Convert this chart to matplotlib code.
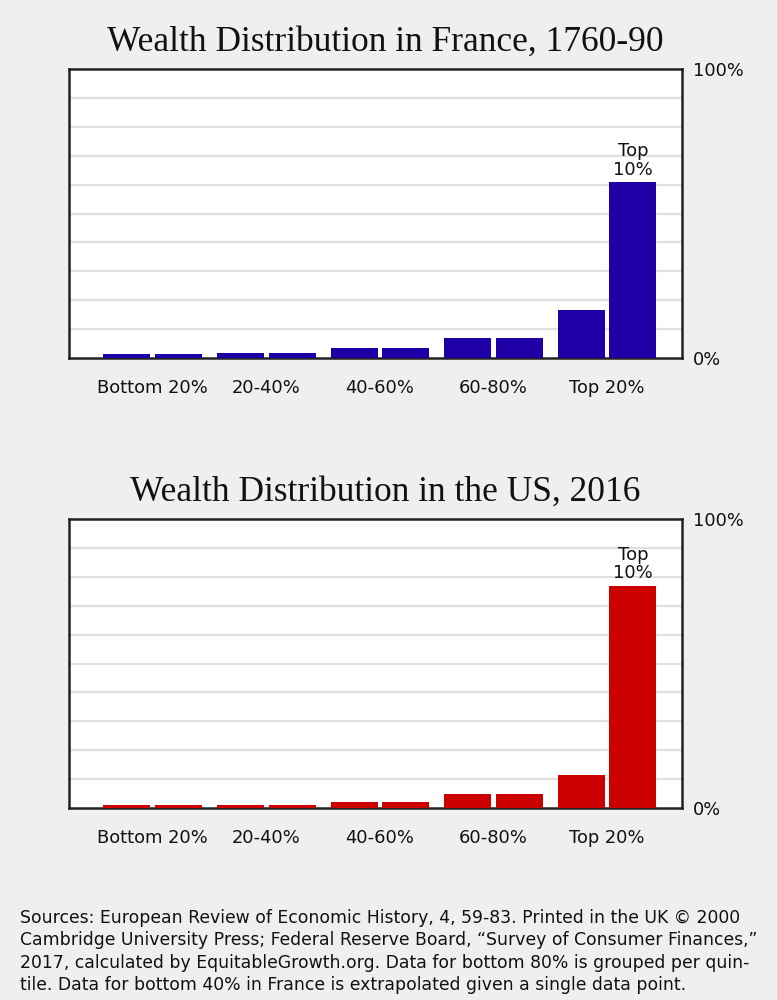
import matplotlib
matplotlib.use("Agg")
import matplotlib.pyplot as plt
import numpy as np

categories = ["Bottom 20%", "20-40%", "40-60%", "60-80%", "Top 20%"]
# wealth share per decile (%), two deciles per quintile group
france_shares = [1.3, 1.3, 1.8, 1.8, 3.3, 3.3, 6.8, 6.8, 16.5, 60.8]
us_shares = [0.9, 0.9, 0.9, 0.9, 2.0, 2.0, 5.0, 5.0, 11.4, 76.8]
top_label = "Top\n10%"
titles = ["Wealth Distribution in France, 1760-90", "Wealth Distribution in the US, 2016"]
colors = ["#1e00a6", "#cc0000"]
ytick_labels = ["0%", "100%"]
source_text = ("Sources: European Review of Economic History, 4, 59-83. Printed in the UK \u00a9 2000\n"
               "Cambridge University Press; Federal Reserve Board, \u201cSurvey of Consumer Finances,\u201d\n"
               "2017, calculated by EquitableGrowth.org. Data for bottom 80% is grouped per quin-\n"
               "tile. Data for bottom 40% in France is extrapolated given a single data point.")

W, H = 777, 1000
bg = "#efefef"
fig = plt.figure(figsize=(W / 100, H / 100), dpi=100, facecolor=bg)

def ax_rect(x0, y0, x1, y1):
    return [x0 / W, 1 - y1 / H, (x1 - x0) / W, (y1 - y0) / H]

rects = [ax_rect(69, 69, 682, 358), ax_rect(69, 519, 682, 808)]
title_y = [42, 492]

for i, (vals, title, color) in enumerate(zip([france_shares, us_shares], titles, colors)):
    ax = fig.add_axes(rects[i])
    ax.set_facecolor("white")
    n = len(categories)
    group = np.arange(n)
    off = 0.227
    xs = np.ravel(np.column_stack([group - off, group + off]))
    ax.bar(xs, vals, width=0.414, color=color, edgecolor="none", zorder=3)
    ax.text(xs[-1], vals[-1] + 1.3, top_label, ha="center", va="bottom",
            fontsize=13, linespacing=1.05, color="#111111", zorder=4)
    ax.set_xlim(-0.737, n - 1 + 0.66)
    ax.set_ylim(0, 100)
    for g in np.arange(10, 100, 10):
        ax.axhline(g, color="#e0e0e0", lw=1.6, zorder=1)
    ax.set_xticks(group)
    ax.set_xticklabels(categories, fontsize=12.9, color="#111111")
    ax.tick_params(axis="x", length=0, pad=15)
    ax.yaxis.tick_right()
    ax.set_yticks([0, 100])
    ax.set_yticklabels(ytick_labels, fontsize=12.8, color="#111111")
    ax.tick_params(axis="y", length=0, pad=8)
    for s in ax.spines.values():
        s.set_linewidth(1.8)
        s.set_color("#222222")
    fig.text(385 / W, 1 - title_y[i] / H, title, ha="center", va="center",
             fontsize=25.5, family="Liberation Serif", color="#111111")

fig.text(20 / W, 1 - 909 / H, source_text, ha="left", va="top",
         fontsize=12.4, linespacing=1.31, color="#111111")

fig.savefig("out.png", dpi=100, facecolor=bg)
